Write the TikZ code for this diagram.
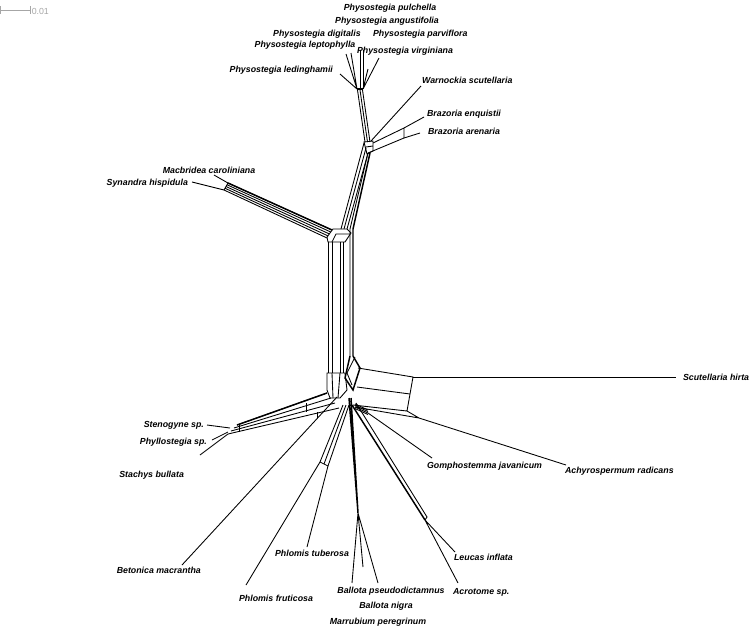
\documentclass[tikz,border=0pt]{standalone}
\usepackage{fontspec}
\setsansfont{Liberation Sans}
\usetikzlibrary{positioning}
\begin{document}
\begin{tikzpicture}[x=0.75pt,y=-0.75pt,line width=0.65pt,
  taxon/.style={font=\sffamily\bfseries\itshape\fontsize{6.6}{7}\selectfont,inner sep=0.5pt},
  heavy/.style={line width=1.1pt}]
\useasboundingbox (0,0) rectangle (750,626);
% scale bar
\draw[gray!70,line width=0.5pt] (0,6) -- (0,14) (0,10) -- (30,10) (30,6) -- (30,14);
\node[gray!70,font=\sffamily\fontsize{6.6}{7}\selectfont,anchor=west,inner sep=1pt] (sbar) at (30,11) {0.01};
% Physostegia fan
\coordinate (phyL) at (357,89);
\coordinate (phyR) at (363,89);
\coordinate (ledi) at (340,74);
\coordinate (lept) at (346,54);
\coordinate (digi) at (351,53);
\coordinate (pulc) at (360,50);
\coordinate (angu) at (363,50);
\coordinate (parv) at (368,69);
\coordinate (virg) at (379,58);
\draw (phyL) -- (ledi) (phyL) -- (lept) (phyL) -- (digi) (phyR) -- (parv) (phyR) -- (virg);
\draw (phyL) ++(3,0) -- (pulc) (phyR) -- (angu);
\draw[heavy] (phyL) -- (phyR);
\node[taxon] (tpulc) at (390,8) {Physostegia pulchella};
\node[taxon] (tangu) at (387,21) {Physostegia angustifolia};
\node[taxon] (tdigi) at (317,34) {Physostegia digitalis};
\node[taxon,anchor=west] (tparv) at (372,34) {Physostegia parviflora};
\node[taxon] (tlept) at (305,45) {Physostegia leptophylla};
\node[taxon,anchor=west] (tvirg) at (356,51) {Physostegia virginiana};
\node[taxon,anchor=east] (tledi) at (334,70) {Physostegia ledinghamii};
% stem down to Brazoria
\foreach \d in {0,2.5,5} \draw (357.5+\d,90) -- (365+\d,142);
\draw (364,142) -- (373,141) -- (373,151) -- (367,154) -- cycle;
\draw (366,147) -- (373,146);
\coordinate (warn) at (421,86);
\coordinate (braz) at (404,128);
\coordinate (braa) at (404,138);
\coordinate (enqu) at (424,117);
\coordinate (aren) at (420,133);
\draw (371,141) -- (warn);
\draw (373,143) -- (braz) -- (braa) -- (368,153);
\draw (braz) -- (enqu) (braa) -- (aren);
\node[taxon,anchor=west] (twarn) at (421,80) {Warnockia scutellaria};
\node[taxon,anchor=west] (tenqu) at (426,114) {Brazoria enquistii};
\node[taxon,anchor=west] (taren) at (427,131) {Brazoria arenaria};
% long stem to the centre
\foreach \k in {0,1,2} \draw (364+2*\k,143+5*\k) -- (341+3*\k,229);
\draw[heavy] (370,153) -- (353,229) -- (353,356);
\draw (368,153) -- (350,229) -- (350,356);
% Macbridea box and band
\draw (327,237) -- (333,229) -- (347,229) -- (351,233) -- (345,242) -- (328,242) -- cycle;
\draw (332,242) -- (336,234) -- (350,234);
\foreach \k in {0,...,4} \draw (332-1.25*\k,230+2*\k) -- (228-\k,183+1.75*\k);
\draw[heavy] (332,230) -- (228,183);
\draw (228,183) -- (224,190);
\coordinate (macb) at (214,175);
\coordinate (syna) at (192,182);
\draw (228,183) -- (macb) (224,190) -- (syna);
\node[taxon] (tmacb) at (209,170) {Macbridea caroliniana};
\node[taxon,anchor=east] (tsyna) at (189,183) {Synandra hispidula};
% central band
\foreach \x in {328,332,340,343} \draw (\x,242) -- (\x,373);
% lower hub
\draw (327,373) -- (345,373) -- (347,390) -- (340,398) -- (330,398) -- (327,390) -- cycle;
\draw (332,373) -- (333,398) (340,373) -- (338,398);
\draw[heavy] (350,356) -- (345,378) -- (353,390) -- (360,368) -- (353,356);
\draw (347,373) -- (355,357) (352,385) -- (347,373);
% Scutellaria and Achyrospermum
\coordinate (scut) at (676,377);
\coordinate (achy) at (566,465);
\draw (358,368) -- (413,377) -- (410,394) -- (407,411) -- (353,405);
\draw (357,387) -- (410,394);
\draw (413,377) -- (scut);
\draw (355,407) -- (419,418) -- (407,411) (419,418) -- (achy);
\node[taxon,anchor=west] (tscut) at (682,377) {Scutellaria hirta};
\node[taxon,anchor=west] (tachy) at (564,471) {Achyrospermum radicans};
% Gomphostemma
\coordinate (gomp) at (432,458);
\foreach \k in {0,...,3} \draw (355,404+1.5*\k) -- (368,410+1.5*\k);
\draw (368,413) -- (gomp);
\node[taxon,anchor=west] (tgomp) at (426,466) {Gomphostemma javanicum};
% Ballota and Marrubium
\coordinate (ball) at (358,513);
\coordinate (marr) at (352,583);
\coordinate (nigr) at (363,567);
\coordinate (pseu) at (378,583);
\draw[heavy] (349,398) -- (ball) (351,398) -- (ball);
\draw (ball) -- (marr) (ball) -- (nigr) (ball) -- (pseu);
\node[taxon] (tpseu) at (391,591) {Ballota pseudodictamnus};
\node[taxon] (tnigr) at (386,606) {Ballota nigra};
\node[taxon] (tmarr) at (378,622) {Marrubium peregrinum};
% Leucas and Acrotome
\coordinate (leuc) at (455,552);
\coordinate (acro) at (458,583);
\draw[heavy] (352,405) -- (425,520);
\draw (356,403) -- (427,517) -- (425,520);
\draw (425,520) -- (leuc) (425,520) -- (acro);
\node[taxon,anchor=west] (tleuc) at (453,557) {Leucas inflata};
\node[taxon,anchor=west] (tacro) at (452,592) {Acrotome sp.};
% Phlomis pair
\coordinate (tube) at (307,547);
\coordinate (frut) at (246,585);
\foreach \k in {0,1,2} \draw (343+3*\k,405) -- (320+4*\k,462+2*\k);
\draw (320,462) -- (328,466);
\draw (328,466) -- (tube) (320,462) -- (frut);
\node[taxon,anchor=east] (ttube) at (350,553) {Phlomis tuberosa};
\node[taxon] (tfrut) at (276,598) {Phlomis fruticosa};
% Betonica
\coordinate (beto) at (182,565);
\draw (337,397) -- (beto);
\node[taxon,anchor=east] (tbeto) at (202,570) {Betonica macrantha};
% Stenogyne, Phyllostegia, Stachys
\coordinate (sten) at (207,425);
\coordinate (phyl) at (212,440);
\coordinate (stac) at (200,455);
\foreach \k in {0,...,3} \draw (327+4*\k,393+5*\k) -- (237-3*\k,425+3*\k);
\draw[heavy] (327,393) -- (237,425);
\draw (306,403) -- (306,412) (317,412) -- (317,418) (239,425) -- (239,432);
\draw (230,428) -- (sten) (228,432) -- (phyl) (228,434) -- (stac);
\node[taxon,anchor=east] (tsten) at (205,425) {Stenogyne sp.};
\node[taxon,anchor=east] (tphyl) at (208,442) {Phyllostegia sp.};
\node[taxon,anchor=east] (tstac) at (185,475) {Stachys bullata};
\end{tikzpicture}
\end{document}
